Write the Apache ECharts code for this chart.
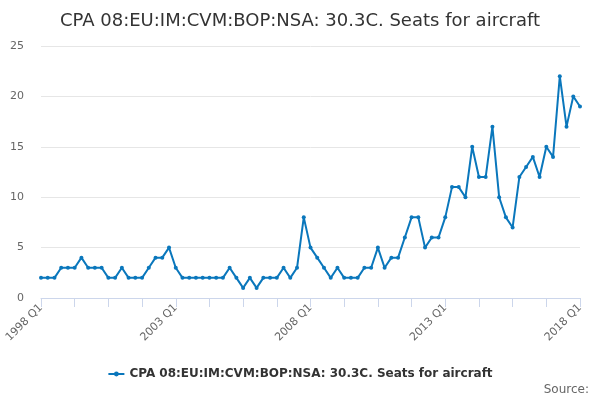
<!DOCTYPE html>
<html>
<head>
<meta charset="utf-8">
<script src="https://cdn.jsdelivr.net/npm/echarts@6/dist/echarts.min.js"></script>
<style>
  html, body { margin: 0; padding: 0; background: #fff; }
  #chart { width: 600px; height: 400px; }
</style>
</head>
<body>
<div id="chart"></div>
<script>
// quarters 1998 Q1 .. 2018 Q1
let quarters = (function() {
	let arr = []
	for (let y = 1998; y <= 2018; y++) {
		for (let q = 1; q <= 4; q++) {
			if (y === 2018 && q > 1) break
			arr.push(`${y} Q${q}`)
		}
	}
	return arr
})()

let seatValues = [
	2, 2, 2, 3, 3, 3, 4, 3, 3, 3, 2, 2, 3, 2, 2, 2, 3, 4, 4, 5,
	3, 2, 2, 2, 2, 2, 2, 2, 3, 2, 1, 2, 1, 2, 2, 2, 3, 2, 3, 8,
	5, 4, 3, 2, 3, 2, 2, 2, 3, 3, 5, 3, 4, 4, 6, 8, 8, 5, 6, 6,
	8, 11, 11, 10, 15, 12, 12, 17, 10, 8, 7, 12, 13, 14, 12, 15, 14, 22, 17, 20,
	19
]

let seriesName = 'CPA 08:EU:IM:CVM:BOP:NSA: 30.3C. Seats for aircraft'
let yTicks = [0, 5, 10, 15, 20, 25]

let myChart = echarts.init(document.getElementById('chart'))

let option = {
	animation: false,
	title: {
		text: seriesName,
		left: 'center',
		top: 7,
		textStyle: {
			fontFamily: 'DejaVu Sans',
			fontSize: 18,
			fontWeight: 'normal',
			color: '#333333'
		}
	},
	graphic: [{
		type: 'text',
		right: 11,
		top: 384,
		style: {
			text: 'Source:',
			fontFamily: 'DejaVu Sans',
			fontSize: 12,
			fill: '#666666'
		}
	}],
	legend: {
		data: [seriesName],
		top: 363,
		left: 'center',
		itemWidth: 16,
		itemHeight: 6,
		textStyle: {
			fontFamily: 'DejaVu Sans',
			fontSize: 12,
			fontWeight: 'bold',
			color: '#333333'
		}
	},
	grid: {
		left: 41,
		right: 20,
		top: 46,
		bottom: 102,
		containLabel: false
	},
	xAxis: {
		type: 'category',
		data: quarters,
		boundaryGap: false,
		axisLine: { lineStyle: { color: '#ccd6eb' } },
		axisTick: {
			interval: 4,
			length: 9,
			lineStyle: { color: '#ccd6eb' }
		},
		axisLabel: {
			interval: 19,
			rotate: 45,
			margin: 8,
			fontFamily: 'DejaVu Sans',
			fontSize: 11,
			color: '#666666'
		}
	},
	yAxis: {
		type: 'value',
		min: yTicks[0],
		max: yTicks[yTicks.length - 1],
		interval: 5,
		axisLine: { show: false },
		axisTick: { show: false },
		splitLine: { lineStyle: { color: '#e6e6e6' } },
		axisLabel: {
			margin: 17,
			fontFamily: 'DejaVu Sans',
			fontSize: 11,
			color: '#666666'
		}
	},
	series: [{
		name: seriesName,
		type: 'line',
		data: seatValues,
		symbol: 'circle',
		symbolSize: 4,
		showAllSymbol: true,
		itemStyle: { color: '#0a77bc' },
		lineStyle: { width: 2, color: '#0a77bc' }
	}]
}

myChart.setOption(option)
</script>
</body>
</html>
